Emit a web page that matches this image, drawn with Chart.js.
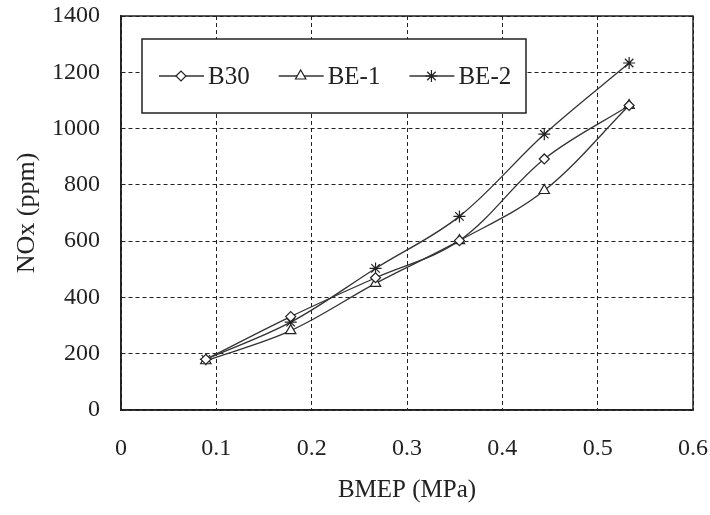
<!DOCTYPE html>
<html>
<head>
<meta charset="utf-8">
<script src="https://cdn.jsdelivr.net/npm/chart.js@4.4.0/dist/chart.umd.min.js"></script>
<style>
  html, body { margin: 0; padding: 0; background: #fff; }
  #wrap { width: 710px; height: 515px; }
</style>
</head>
<body>
<div id="wrap"><canvas id="noxChart" width="710" height="515"></canvas></div>
<script>
const bmep = [0.089, 0.178, 0.267, 0.355, 0.444, 0.533];
const b30 = [180, 332, 470, 602, 892, 1082];
const be1 = [175, 282, 450, 602, 780, 1082];
const be2 = [180, 312, 503, 688, 980, 1233];
const seriesNames = ['B30', 'BE-1', 'BE-2'];

const serif = "'Liberation Serif', 'Times New Roman', serif";
const ink = '#222';

function toPoints(values) {
    return bmep.map((x, i) => ({ x: x, y: values[i] }));
}

function makeSet(label, values, style, radius) {
    return {
        label: label,
        data: toPoints(values),
        borderColor: '#333',
        borderWidth: 1.3,
        pointStyle: style,
        pointRadius: radius,
        pointBorderWidth: 1.2,
        pointBorderColor: '#222',
        pointBackgroundColor: '#fff',
        tension: 0.35,
        fill: false
    };
}

// frame around the plot + boxed legend inside the plot area
const boxLegend = {
    id: 'boxLegend',
    afterDraw(chart) {
        const ctx = chart.ctx;
        const a = chart.chartArea;
        ctx.save();
        ctx.setLineDash([]);
        ctx.strokeStyle = ink;
        ctx.lineWidth = 1.5;
        ctx.strokeRect(a.left, a.top, a.right - a.left, a.bottom - a.top);

        const bx = a.left + 21, by = a.top + 23, bw = 384, bh = 74;
        ctx.fillStyle = '#fff';
        ctx.fillRect(bx, by, bw, bh);
        ctx.strokeRect(bx, by, bw, bh);

        ctx.font = '25px ' + serif;
        ctx.textBaseline = 'middle';
        let x = bx + 17;
        const y = by + bh / 2;
        chart.data.datasets.forEach(ds => {
            ctx.strokeStyle = '#333';
            ctx.lineWidth = 1.3;
            ctx.beginPath();
            ctx.moveTo(x, y);
            ctx.lineTo(x + 45, y);
            ctx.stroke();
            ctx.fillStyle = '#fff';
            ctx.strokeStyle = '#222';
            ctx.lineWidth = 1.2;
            Chart.helpers.drawPoint(ctx, {
                pointStyle: ds.pointStyle,
                radius: ds.pointRadius,
                borderWidth: 1.2,
                rotation: 0
            }, x + 22, y);
            ctx.fillStyle = ink;
            ctx.fillText(ds.label, x + 49, y + 1);
            x += 49 + ctx.measureText(ds.label).width + 29;
        });
        ctx.restore();
    }
};

new Chart(document.getElementById('noxChart'), {
    type: 'line',
    data: {
        datasets: [
            makeSet(seriesNames[0], b30, 'rectRot', 5),
            makeSet(seriesNames[1], be1, 'triangle', 6),
            makeSet(seriesNames[2], be2, 'star', 6)
        ]
    },
    options: {
        responsive: false,
        animation: false,
        layout: { padding: { left: 0, right: 17, top: 16, bottom: 0 } },
        plugins: {
            legend: { display: false },
            tooltip: { enabled: false }
        },
        scales: {
            x: {
                type: 'linear',
                min: 0,
                max: 0.6,
                ticks: {
                    stepSize: 0.1,
                    padding: 24,
                    color: ink,
                    font: { family: serif, size: 24 },
                    callback: v => (v === 0 ? '0' : v.toFixed(1))
                },
                grid: {
                    color: ink,
                    lineWidth: 1,
                    drawTicks: false
                },
                border: { display: true, color: ink, width: 1.5, dash: [4, 3] },
                title: {
                    display: true,
                    text: 'BMEP (MPa)',
                    color: ink,
                    font: { family: serif, size: 25 },
                    padding: { top: 0, bottom: 10 }
                },
                afterFit: s => {
                    s.height = 105;
                    s.paddingLeft = 0;
                    s.paddingRight = 0;
                }
            },
            y: {
                min: 0,
                max: 1400,
                ticks: {
                    stepSize: 200,
                    padding: 21,
                    color: ink,
                    font: { family: serif, size: 24 },
                    callback: v => String(v)
                },
                grid: {
                    color: ink,
                    lineWidth: 1,
                    drawTicks: false
                },
                border: { display: true, color: ink, width: 1.5, dash: [4, 3] },
                title: {
                    display: true,
                    text: 'NOx (ppm)',
                    color: ink,
                    font: { family: serif, size: 26 },
                    padding: { top: 12, bottom: 0 }
                },
                afterFit: s => {
                    s.width = 121;
                    s.paddingTop = 0;
                    s.paddingBottom = 0;
                }
            }
        }
    },
    plugins: [boxLegend]
});
</script>
</body>
</html>
